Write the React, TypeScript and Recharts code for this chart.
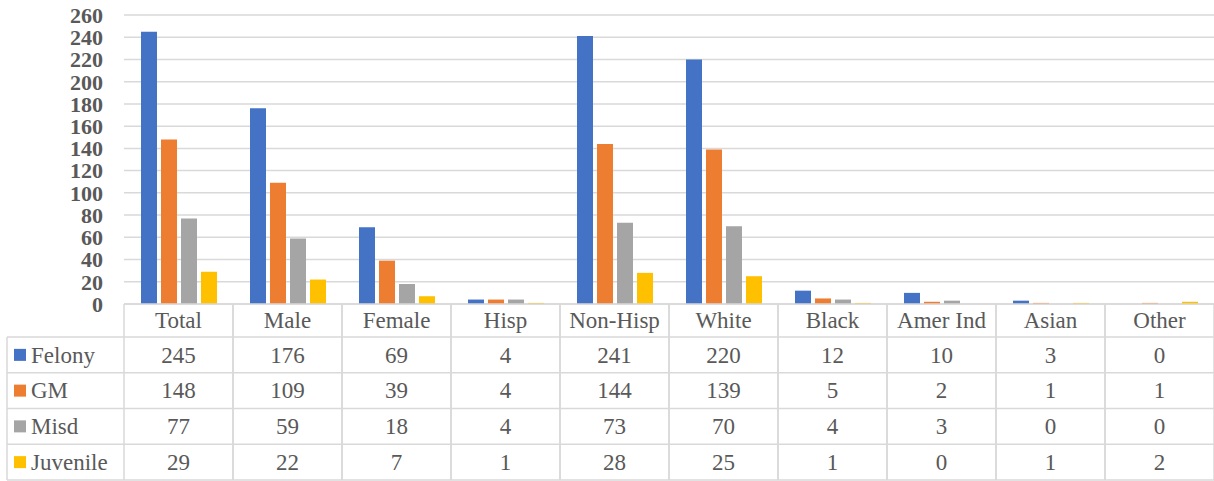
import React from 'react';
import { BarChart, Bar, XAxis, YAxis, CartesianGrid } from 'recharts';

const categories = ['Total', 'Male', 'Female', 'Hisp', 'Non-Hisp', 'White', 'Black', 'Amer Ind', 'Asian', 'Other'];
const felony = [245, 176, 69, 4, 241, 220, 12, 10, 3, 0];
const gm = [148, 109, 39, 4, 144, 139, 5, 2, 1, 1];
const misd = [77, 59, 18, 4, 73, 70, 4, 3, 0, 0];
const juvenile = [29, 22, 7, 1, 28, 25, 1, 0, 1, 2];
const yTicks = [0, 20, 40, 60, 80, 100, 120, 140, 160, 180, 200, 220, 240, 260];

const series = [
  { name: 'Felony', values: felony, color: '#4472C4' },
  { name: 'GM', values: gm, color: '#ED7D31' },
  { name: 'Misd', values: misd, color: '#A5A5A5' },
  { name: 'Juvenile', values: juvenile, color: '#FFC000' },
];

const data = categories.map((c, i) => {
  const row: Record<string, any> = { category: c };
  series.forEach((s) => {
    row[s.name] = s.values[i];
  });
  return row;
});

const WIDTH = 1214;
const HEIGHT = 481;
const LEFT = 124;
const TOP = 15;
const AXIS_H = 177;
const CELL_W = (WIDTH - LEFT) / categories.length;
const HEADER_H = 33;
const ROW_H = 35.75;
const LEGEND_LEFT = 7;
const FONT = "'Liberation Serif', 'Times New Roman', serif";
const FONT_SIZE = 23;
const TEXT = '#595959';
const GRID = '#D9D9D9';
const LINE_W = 1.5;

const textStyle: React.CSSProperties = { fontFamily: FONT, fontSize: FONT_SIZE };

function TableTick(props: any) {
  const { x, y, payload, index } = props;
  const half = CELL_W / 2;
  const left = x - half;
  const right = x + half;
  const bottom = y + HEADER_H + ROW_H * series.length;
  const els: React.ReactNode[] = [];
  els.push(<line key="vl" x1={left} x2={left} y1={y} y2={bottom} stroke={GRID} strokeWidth={LINE_W} />);
  els.push(<line key="vr" x1={right} x2={right} y1={y} y2={bottom} stroke={GRID} strokeWidth={LINE_W} />);
  for (let r = 0; r <= series.length; r++) {
    const ly = y + HEADER_H + r * ROW_H;
    els.push(<line key={'h' + r} x1={left} x2={right} y1={ly} y2={ly} stroke={GRID} strokeWidth={LINE_W} />);
  }
  els.push(
    <text key="hdr" x={x} y={y + HEADER_H / 2 + FONT_SIZE * 0.34} textAnchor="middle" fill={TEXT} style={textStyle}>
      {payload.value}
    </text>
  );
  series.forEach((s, r) => {
    const cy = y + HEADER_H + r * ROW_H + ROW_H / 2;
    els.push(
      <text key={'v' + r} x={x} y={cy + FONT_SIZE * 0.34} textAnchor="middle" fill={TEXT} style={textStyle}>
        {s.values[index]}
      </text>
    );
  });
  if (index === 0) {
    const top = y + HEADER_H;
    els.push(<line key="ll" x1={LEGEND_LEFT} x2={LEGEND_LEFT} y1={top} y2={bottom} stroke={GRID} strokeWidth={LINE_W} />);
    for (let r = 0; r <= series.length; r++) {
      const ly = top + r * ROW_H;
      els.push(<line key={'lh' + r} x1={LEGEND_LEFT} x2={left} y1={ly} y2={ly} stroke={GRID} strokeWidth={LINE_W} />);
    }
    series.forEach((s, r) => {
      const cy = top + r * ROW_H + ROW_H / 2;
      els.push(<rect key={'lr' + r} x={14} y={cy - 6} width={12} height={12} fill={s.color} />);
      els.push(
        <text key={'lt' + r} x={31} y={cy + FONT_SIZE * 0.34} fill={TEXT} style={textStyle}>
          {s.name}
        </text>
      );
    });
  }
  return <g>{els}</g>;
}

export default function App() {
  return (
    <div style={{ position: 'absolute', left: 0, top: 0, width: WIDTH, height: HEIGHT, background: '#fff' }}>
      <BarChart
        width={WIDTH}
        height={HEIGHT}
        data={data}
        margin={{ top: TOP, right: 0, bottom: 0, left: 0 }}
        barGap={4}
        barSize={16}
      >
        <CartesianGrid vertical={false} stroke={GRID} strokeWidth={LINE_W} />
        <XAxis
          dataKey="category"
          height={AXIS_H}
          interval={0}
          tickLine={false}
          tickSize={0}
          tickMargin={0}
          axisLine={{ stroke: GRID, strokeWidth: LINE_W }}
          tick={(p: any) => <TableTick {...p} />}
        />
        <YAxis
          width={LEFT}
          domain={[0, 260]}
          ticks={yTicks}
          interval={0}
          tickLine={false}
          axisLine={false}
          tickSize={0}
          tickMargin={21}
          tick={{ fill: TEXT, fontFamily: FONT, fontSize: 22, fontWeight: 'bold' }}
        />
        {series.map((s) => (
          <Bar key={s.name} dataKey={s.name} fill={s.color} isAnimationActive={false} />
        ))}
      </BarChart>
    </div>
  );
}
